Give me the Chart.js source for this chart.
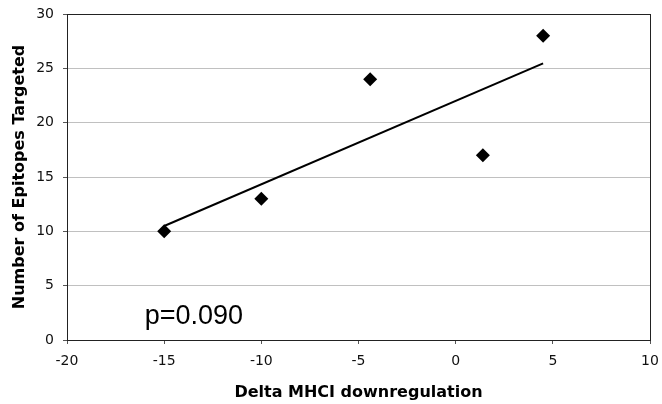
<!DOCTYPE html>
<html><head><meta charset="utf-8">
<script src="https://cdn.jsdelivr.net/npm/chart.js@4.4.0/dist/chart.umd.min.js"></script>
<style>html,body{margin:0;padding:0;background:#fff}#wrap{width:662px;height:404px}</style>
</head><body><div id="wrap"><canvas id="c" width="662" height="404"></canvas></div>
<script>
const deltaMHCI = [-15, -10, -4.4, 1.4, 4.5];
const epitopes = [10, 13, 24, 17, 28];
const xTicks = [-20, -15, -10, -5, 0, 5, 10];
const yTicks = [0, 5, 10, 15, 20, 25, 30];
const pLabel = 'p=0.090';

// least-squares trend line over the data range
const n = deltaMHCI.length;
const mx = deltaMHCI.reduce((a,b)=>a+b,0)/n, my = epitopes.reduce((a,b)=>a+b,0)/n;
let sxy=0, sxx=0;
for (let i=0;i<n;i++){ sxy+=(deltaMHCI[i]-mx)*(epitopes[i]-my); sxx+=(deltaMHCI[i]-mx)**2; }
const slope = sxy/sxx, icpt = my - slope*mx;
const xmin = Math.min(...deltaMHCI), xmax = Math.max(...deltaMHCI);
const trend = [{x:xmin,y:icpt+slope*xmin},{x:xmax,y:icpt+slope*xmax}];

const boxPlugin = {
  id:'box',
  afterDraw(chart){
    const {ctx, chartArea:a} = chart;
    ctx.save();
    ctx.strokeStyle='#222'; ctx.lineWidth=1;
    ctx.strokeRect(Math.round(a.left)+0.5, Math.round(a.top)+0.5, Math.round(a.right-a.left), Math.round(a.bottom-a.top));
    ctx.fillStyle='#000';
    ctx.font='27px "Liberation Sans", Arial, sans-serif';
    ctx.textBaseline='alphabetic';
    const xs = chart.scales.x, ys = chart.scales.y;
    ctx.fillText(pLabel, xs.getPixelForValue(-16.0), ys.getPixelForValue(1.5));
    ctx.restore();
  }
};

const tickFont = {family:'"DejaVu Sans", Verdana, sans-serif', size:14};
const titleFont = {family:'"DejaVu Sans", Verdana, sans-serif', size:16, weight:'bold'};

new Chart(document.getElementById('c'), {
  type:'scatter',
  data:{datasets:[
    {data:deltaMHCI.map((x,i)=>({x, y:epitopes[i]})), pointStyle:'rectRot', pointRadius:7, pointHoverRadius:7,
     backgroundColor:'#000', borderColor:'#000', borderWidth:0, order:1},
    {type:'line', data:trend, borderColor:'#000', borderWidth:2, pointRadius:0, fill:false, order:2}
  ]},
  options:{
    responsive:false, animation:false,
    layout:{padding:{top:14,right:0,left:10,bottom:2}},
    plugins:{legend:{display:false}, tooltip:{enabled:false}},
    scales:{
      x:{type:'linear', min:-20, max:10,
        afterBuildTicks(s){ s.ticks = xTicks.map(v=>({value:v})); },
        afterFit(s){ s.paddingRight = 12; s.paddingLeft = 0; },
        ticks:{color:'#111', font:tickFont, padding:9, maxRotation:0},
        grid:{drawOnChartArea:false, tickLength:4, color:'#555'},
        border:{color:'#222'},
        title:{display:true, text:'Delta MHCI downregulation', color:'#000', font:titleFont, padding:{top:4,bottom:0}}
      },
      y:{type:'linear', min:0, max:30,
        afterBuildTicks(s){ s.ticks = yTicks.map(v=>({value:v})); },
        afterFit(s){ s.width = 57; s.paddingTop = 0; s.paddingBottom = 0; },
        ticks:{color:'#111', font:tickFont, padding:9},
        grid:{color:'#c0c0c0', tickLength:4, tickColor:'#555'},
        border:{color:'#222'},
        title:{display:true, text:'Number of Epitopes Targeted', color:'#000', font:titleFont, padding:{top:0,bottom:0}}
      }
    }
  },
  plugins:[boxPlugin]
});
</script></body></html>
